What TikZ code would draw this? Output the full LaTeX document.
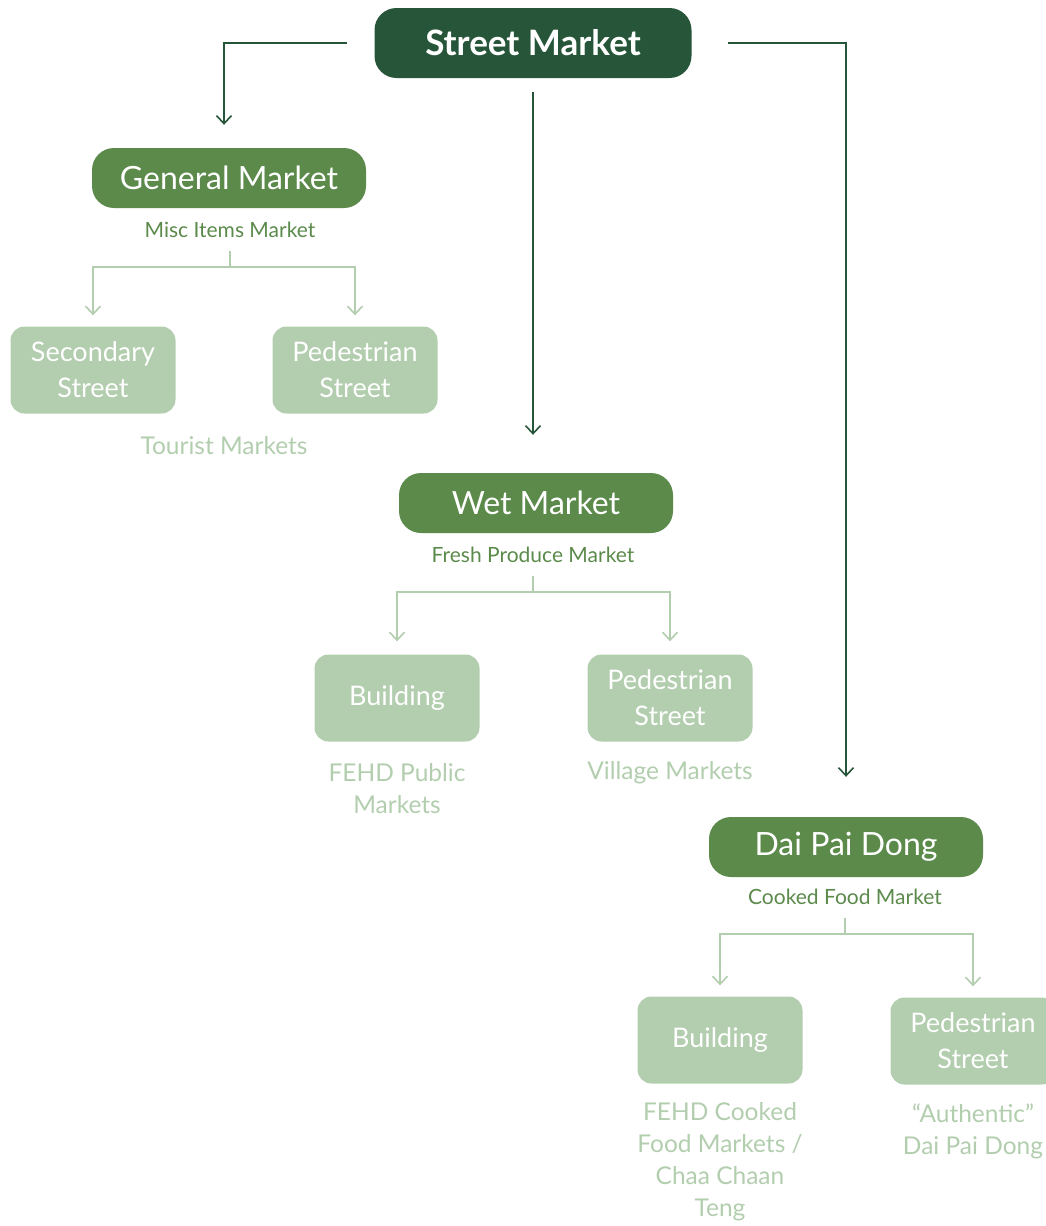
\documentclass[tikz,border=0pt]{standalone}
\usepackage{fontspec}
\setmainfont{Lato}
\usetikzlibrary{arrows.meta}

\definecolor{smdark}{HTML}{27553A}
\definecolor{smmid}{HTML}{5B8A4B}
\definecolor{smlight}{HTML}{B2CEAE}

\tikzset{
  topbox/.style={fill=smdark,text=white,rounded corners=22pt,inner sep=0pt,
    minimum width=317pt,minimum height=70pt,font=\fontsize{35}{40}\selectfont\bfseries},
  catbox/.style={fill=smmid,text=white,rounded corners=22pt,inner sep=0pt,
    minimum width=274pt,minimum height=60pt,font=\fontsize{32}{36}\selectfont},
  leafbox/.style={fill=smlight,text=white,rounded corners=14pt,inner sep=0pt,
    minimum width=165pt,minimum height=87pt,align=center,font=\fontsize{27}{36}\selectfont},
  catnote/.style={text=smmid,inner sep=0pt,font=\fontsize{21}{24}\selectfont},
  leafnote/.style={text=smlight,inner sep=0pt,align=center,font=\fontsize{24.5}{32}\selectfont},
  tip/.style={-{Straight Barb[length=8pt,width=15pt,line width=1.6pt]}},
  trunk/.style={draw=smdark,line width=2pt,tip},
  branch/.style={draw=smlight,line width=2pt,tip}
}

\begin{document}
\begin{tikzpicture}[x=1pt,y=-1pt]
\useasboundingbox (0,0) rectangle (1046,1226);

% top level
\node[topbox] (street) at (533,43) {Street Market};

% three kinds
\node[catbox] (general) at (229,178) {General Market};
\node[catnote] (misc) at (230,230) {Misc Items Market};
\node[catbox] (wet) at (536,503) {Wet Market};
\node[catnote] (fresh) at (533,555) {Fresh Produce Market};
\node[catbox] (dpd) at (846,847) {Dai Pai Dong};
\node[catnote] (cooked) at (845,897) {Cooked Food Market};

% general market
\node[leafbox] (gensec) at (93,370) {Secondary\\Street};
\node[leafbox] (genped) at (355,370) {Pedestrian\\Street};
\node[leafnote] (tourist) at (224,446) {Tourist Markets};

% wet market
\node[leafbox] (wetbld) at (397,698) {Building};
\node[leafbox] (wetped) at (670,698) {Pedestrian\\Street};
\node[leafnote] (fehdpub) at (397,789) {FEHD Public\\Markets};
\node[leafnote] (village) at (670,773) {Village Markets};

% dai pai dong
\node[leafbox] (dpdbld) at (720,1040) {Building};
\node[leafbox] (dpdped) at (973,1041) {Pedestrian\\Street};
\node[leafnote] (fehdcook) at (720,1162) {FEHD Cooked\\Food Markets /\\Chaa Chaan\\Teng};
\node[leafnote] (authentic) at (973,1131) {``Authentic''\\Dai Pai Dong};

% trunk lines
\draw[trunk] ([xshift=-27pt]street.west) -| ([xshift=-5pt,yshift=23pt]general.north);
\draw[trunk] ([yshift=-14pt]street.south) -- ([yshift=38pt]wet.north -| street.south);
\draw[trunk] ([xshift=36pt]street.east) -| ([yshift=40pt]dpd.north);

% branches
\draw[branch] ([yshift=-13pt]misc.south) -- ++(0,16) coordinate (gm) -| ([yshift=11pt]gensec.north);
\draw[branch] (gm) -| ([yshift=11pt]genped.north);
\draw[branch] ([yshift=-13pt]fresh.south) -- ++(0,16) coordinate (wm) -| ([yshift=13pt]wetbld.north);
\draw[branch] (wm) -| ([yshift=13pt]wetped.north);
\draw[branch] ([yshift=-13pt]cooked.south) -- ++(0,16) coordinate (dm) -| ([yshift=11pt]dpdbld.north);
\draw[branch] (dm) -| ([yshift=11pt]dpdped.north);

\end{tikzpicture}
\end{document}
